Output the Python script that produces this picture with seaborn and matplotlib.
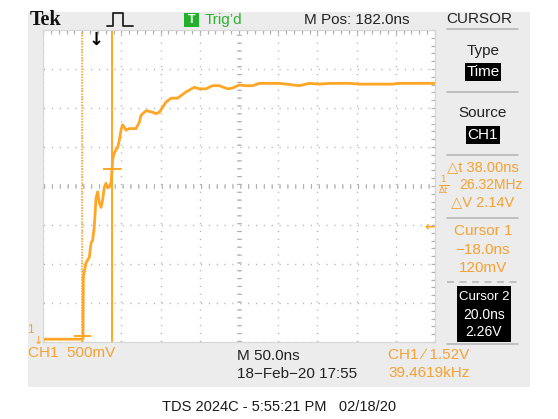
import matplotlib
matplotlib.use("Agg")
import matplotlib.pyplot as plt
import seaborn as sns
from matplotlib.patches import Rectangle
from matplotlib.lines import Line2D

# waveform (time in ns, CH1 in volts)
t_ns = [-68, -17.0, -16.6, -13.1, -8.9, -6.8, -4.7, -2.6, -0.4, 1.7, 3.8, 6.0, 8.0,
        10.2, 12.4, 14.4, 16.6, 18.8, 20.0, 20.8, 23.0, 27.2, 29.3, 31.5, 33.5, 37.9,
        42.1, 50.6, 54.8, 57.0, 63.4, 71.8, 76.1, 80.4, 88.9, 95.3, 103.7, 114.4,
        125.0, 131.4, 139.9, 148.3, 156.9, 167.5, 173.9, 182.4, 190.9, 199.4, 208.0,
        233.4, 242.0, 258.9, 271.7, 284.4, 297.2, 322.7, 335.5, 344.0, 377.9, 386.5,
        407.8, 431.5]
volts = [0.08, 0.08, 0.88, 1.06, 1.13, 1.31, 1.35, 1.52, 1.89, 1.97, 1.83, 1.77, 1.86,
         2.03, 2.08, 2.02, 2.03, 2.09, 2.25, 2.38, 2.47, 2.54, 2.63, 2.76, 2.83, 2.76,
         2.78, 2.78, 2.86, 2.95, 3.01, 2.99, 2.97, 2.99, 3.12, 3.17, 3.17, 3.25,
         3.31, 3.29, 3.29, 3.33, 3.33, 3.29, 3.30, 3.34, 3.33, 3.33, 3.36,
         3.36, 3.35, 3.33, 3.36, 3.35, 3.36, 3.36, 3.35, 3.35, 3.35, 3.36,
         3.36, 3.36]

cursor_t = [-18.0, 20.0]
cursor_v = [0.12, 2.26]
trig_level = 1.52
m_pos = 182.0
ns_per_div = 50.0
v_per_div = 0.5
v_offset = 0.044

ORANGE = "#FFA625"
TXT_OR = "#F5A133"
GRID = "#b0b0b0"
PANEL = "#ececec"

sns.set_style("white")
plt.rcParams["font.family"] = ["Liberation Sans", "DejaVu Sans"]
plt.rcParams["lines.scale_dashes"] = False

W, H = 558, 419
fig = plt.figure(figsize=(W / 100, H / 100), dpi=100)


def P(x, y):
    return x / W, 1 - y / H


def txt(x, y, s, size=10.5, color="#222222", **kw):
    fig.text(*P(x, y), s, fontsize=size, color=color, ha=kw.pop("ha", "center"),
             va=kw.pop("va", "center"), **kw)


def hline(x1, x2, y, **kw):
    fig.lines.append(Line2D([x1 / W, x2 / W], [1 - y / H] * 2, transform=fig.transFigure,
                            color="#b8b8b8", linewidth=1.2, **kw))


# grey instrument panel
fig.patches.append(Rectangle(P(28, 387), 502 / W, 375 / H, transform=fig.transFigure,
                             facecolor=PANEL, edgecolor="none", zorder=-5))

ax = fig.add_axes([43 / W, 1 - 342 / H, 392 / W, 312 / H], zorder=3)
ax.set_facecolor("white")
x0 = m_pos - 5 * ns_per_div
ax.set_xlim(x0, x0 + 10 * ns_per_div)
ax.set_ylim(v_offset, v_offset + 8 * v_per_div)
ax.set_xticks([x0 + i * ns_per_div for i in range(11)])
ax.set_yticks([v_offset + i * v_per_div for i in range(9)])
ax.set_xticks([x0 + i * ns_per_div / 5 for i in range(51)], minor=True)
ax.set_yticks([v_offset + i * v_per_div / 5 for i in range(41)], minor=True)
ax.tick_params(which="both", direction="in", length=3, width=0.9, color=GRID,
               top=True, right=True, labelbottom=False, labelleft=False)
for s in ax.spines.values():
    s.set_color("#d6d6d6")
    s.set_linewidth(0.8)
ax.grid(True, which="major", color=GRID, linewidth=1.0, linestyle=(-0.4, (0.8, 4.85)))
ax.axvline(m_pos, color=GRID, linewidth=3.5, linestyle=(-0.4, (0.8, 4.85)))
ax.axhline(v_offset + 4 * v_per_div, color=GRID, linewidth=3.5, linestyle=(-0.4, (0.8, 4.85)))

# cursors
ax.axvline(cursor_t[0], color=ORANGE, linewidth=1.3, linestyle=(0, (1.0, 1.0)))
ax.axvline(cursor_t[1], color=ORANGE, linewidth=1.4)
ax.hlines(cursor_v, [c - 11 for c in cursor_t], [c + 11 for c in cursor_t],
          color=ORANGE, linewidth=1.4)

sns.lineplot(x=t_ns, y=volts, ax=ax, color=ORANGE, linewidth=2.0, sort=False,
             estimator=None)
ax.set_xlabel("")
ax.set_ylabel("")

# trigger position and level markers
ax.text(0, 0.998, "\u2193", transform=ax.get_xaxis_transform(), ha="center", va="top",
        fontsize=13, fontweight="bold", color="black", family="DejaVu Sans")
ax.text(1.0, trig_level, "\u2190", transform=ax.get_yaxis_transform(), ha="right",
        va="center", fontsize=9, fontweight="bold", color=ORANGE, family="DejaVu Sans")

# top bar
txt(46, 20, "Tek", size=14.5, color="#111111", fontweight="bold", family="Liberation Serif")
fig.lines.append(Line2D([107 / W, 113 / W, 113 / W, 123 / W, 123 / W, 133 / W],
                        [1 - 26 / H, 1 - 26 / H, 1 - 13 / H, 1 - 13 / H, 1 - 26 / H, 1 - 26 / H],
                        transform=fig.transFigure, color="#222222", linewidth=1.3))
fig.patches.append(Rectangle(P(184, 27), 15 / W, 14 / H, transform=fig.transFigure,
                             facecolor="#22b02a", edgecolor="none"))
txt(191.5, 20, "T", size=9, color="white", fontweight="bold")
txt(223, 20, "Trig\u2019d", size=11, color="#2fb032")
txt(357, 20, "M Pos: 182.0ns", size=11)
txt(479, 19, "CURSOR", size=11)
hline(447, 518, 29.5)

# right menu
box = dict(boxstyle="square,pad=0.12", facecolor="black", edgecolor="none")
txt(483, 51, "Type", size=11)
txt(483, 72, "Time", size=11, color="white", bbox=box)
txt(483, 113, "Source", size=11)
txt(483, 135, "CH1", size=11, color="white", bbox=box)
for yy in (92, 155, 218, 344):
    hline(447, 518, yy)
hline(447, 518, 282, linestyle=(0, (5, 4)))
txt(483, 167, "\u25b3t 38.00ns", size=10.5, color=TXT_OR)
txt(444, 185, r"$\frac{1}{\Delta t}$", size=9, color=TXT_OR)
txt(491, 185, "26.32MHz", size=10, color=TXT_OR)
txt(483, 202, "\u25b3V 2.14V", size=10.5, color=TXT_OR)
txt(483, 231, "Cursor 1", size=11, color=TXT_OR)
txt(483, 250, "\u221218.0ns", size=11, color=TXT_OR)
txt(483, 268, "120mV", size=11, color=TXT_OR)
fig.patches.append(Rectangle(P(457, 342), 54 / W, 56 / H, transform=fig.transFigure,
                             facecolor="black", edgecolor="none"))
txt(484, 297, "Cursor 2", size=9.5, color="white")
txt(484, 315, "20.0ns", size=10, color="white")
txt(484, 332, "2.26V", size=10, color="white")

# bottom readouts
txt(30, 330, "1", size=8.5, color=TXT_OR)
txt(38, 341, "\u2193", size=8, color=TXT_OR, family="DejaVu Sans")
txt(28, 353, "CH1  500mV", size=11, color=TXT_OR, ha="left")
txt(237, 356, "M 50.0ns", size=11, ha="left")
txt(237, 374, "18\u2212Feb\u221220 17:55", size=11, ha="left")
txt(388, 355, "CH1 \u2215 1.52V", size=11, color=TXT_OR, ha="left")
txt(388, 373, "39.4619kHz", size=11, color=TXT_OR, ha="left")

txt(279, 407, "TDS 2024C - 5:55:21 PM   02/18/20", size=10.5, color="#1a1a1a")

fig.savefig("out.png", dpi=100, facecolor="white")
